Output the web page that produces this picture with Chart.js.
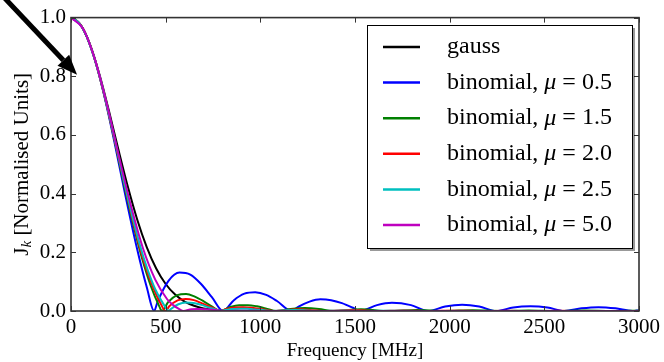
<!DOCTYPE html>
<html>
<head>
<meta charset="utf-8">
<script src="https://cdn.jsdelivr.net/npm/chart.js@4.4.0/dist/chart.umd.min.js"></script>
<style>
html, body { margin: 0; padding: 0; background: #fff; }
</style>
</head>
<body>
<div style="width:664px;height:362px"><canvas id="graph1" width="664" height="362"></canvas></div>
<script>
// values (frequency in MHz, J_k normalised)
var freqGauss = [0,50,100,150,200,250,300,350,400,450,500,550,600,650,700,800,900,1000,3000];
var jGauss = [1,0.976,0.909,0.807,0.683,0.551,0.424,0.311,0.218,0.145,0.092,0.056,0.032,0.018,0.009,0.002,0.0004,0,0];

var freqB05 = [0,57,115,172,229,286,344,401,439,458,515,573,630,687,744,803,859,916,973,1031,1088,1164,1202,1260,1317,1374,1431,1489,1525,1616,1695,1796,1886,1976,2066,2156,2246,2336,2426,2516,2606,2696,2786,2876,2966,3000];
var jB05 = [1,0.969,0.880,0.744,0.577,0.398,0.226,0.079,0,0.033,0.103,0.131,0.124,0.092,0.047,0,0.036,0.059,0.064,0.055,0.034,0,0.015,0.032,0.040,0.037,0.027,0.011,0,0.020,0.028,0.020,0,0.015,0.021,0.015,0,0.012,0.016,0.012,0,0.009,0.013,0.009,0,0.003];

var freqB15 = [0,47,93,140,187,234,280,327,374,421,467,480,514,561,608,654,701,748,787,841,888,935,982,1028,1086,1160,1234,1310,1384,1531,1679,1827,1974,2122,2269,2417,2563,2711,2858,3000];
var jB15 = [1,0.979,0.919,0.825,0.706,0.571,0.432,0.300,0.182,0.086,0.015,0,0.031,0.054,0.058,0.049,0.033,0.014,0,0.014,0.020,0.020,0.016,0.009,0,0.0071,0.0101,0.0071,0,0.0059,0,0.0038,0,0.0026,0,0.0019,0,0.0015,0,0.0012];

var freqB20 = [0,43,87,130,173,216,260,303,346,389,433,476,499,519,563,606,649,692,736,779,787,822,866,909,952,995,1039,1066,1203,1342,1480,1618,1757,1891,2025,2164,2302,2436,2571,2707,2843,2979,3000];
var jB20 = [1,0.982,0.931,0.849,0.744,0.624,0.498,0.374,0.259,0.160,0.081,0.022,0,0.016,0.036,0.041,0.037,0.026,0.014,0.002,0,0.007,0.012,0.013,0.011,0.007,0.003,0,0.0056,0,0.0030,0,0.0018,0,0.0012,0,0.0008,0,0.0006,0,0.0004,0,0.0001];

var freqB25 = [0,40,81,121,162,202,243,283,324,364,405,445,486,517,526,567,607,648,688,729,769,790,810,850,891,931,972,1012,1054,1182,1313,1441,1571,1700,1828,3000];
var jB25 = [1,0.984,0.939,0.867,0.774,0.666,0.550,0.433,0.323,0.224,0.140,0.074,0.026,0,0.006,0.023,0.029,0.027,0.021,0.012,0.004,0,0.003,0.007,0.008,0.008,0.005,0.003,0,0.0032,0,0.0016,0,0.0009,0,0];

var freqB50 = [0,64,127,191,254,318,381,445,508,540,572,594,635,667,699,730,762,824,908,1042,3000];
var jB50 = [1,0.962,0.856,0.701,0.525,0.355,0.212,0.107,0.040,0.020,0.006,0,0.006,0.007,0.006,0.005,0.003,0,0.0012,0,0];

var seriesNames = ["gauss", "binomial", "binomial", "binomial", "binomial", "binomial"];
var muValues = [null, "0.5", "1.5", "2.0", "2.5", "5.0"];
var seriesColors = ["#000000", "#0000ff", "#008000", "#ff0000", "#00bfbf", "#bf00bf"];
var xTicks = { min: 0, max: 3000, step: 500 };
var yTicks = { min: 0, max: 1, step: 0.2 };

function pts(f, j) {
    return f.map(function (v, i) { return { x: v, y: j[i] }; });
}
var allSeries = [pts(freqGauss, jGauss), pts(freqB05, jB05), pts(freqB15, jB15),
                 pts(freqB20, jB20), pts(freqB25, jB25), pts(freqB50, jB50)];

var serif = "'Liberation Serif', 'DejaVu Serif', serif";

// frame, inward ticks, y title, legend box and the arrow
var extras = {
    id: "extras",
    afterDraw: function (chart) {
        var ctx = chart.ctx, a = chart.chartArea;
        var xs = chart.scales.x, ys = chart.scales.y;
        ctx.save();
        ctx.strokeStyle = "#333";
        ctx.lineWidth = 1.6;
        ctx.strokeRect(a.left, a.top, a.right - a.left, a.bottom - a.top);
        ctx.lineWidth = 1;
        ctx.beginPath();
        xs.ticks.forEach(function (t) {
            var px = Math.round(xs.getPixelForValue(t.value)) + 0.5;
            ctx.moveTo(px, a.bottom); ctx.lineTo(px, a.bottom - 5);
            ctx.moveTo(px, a.top); ctx.lineTo(px, a.top + 5);
        });
        ys.ticks.forEach(function (t) {
            var py = Math.round(ys.getPixelForValue(t.value)) + 0.5;
            ctx.moveTo(a.left, py); ctx.lineTo(a.left + 5, py);
            ctx.moveTo(a.right, py); ctx.lineTo(a.right - 5, py);
        });
        ctx.stroke();

        // y title  J_k [Normalised Units]
        ctx.fillStyle = "#000";
        ctx.translate(22, (a.top + a.bottom) / 2);
        ctx.rotate(-Math.PI / 2);
        ctx.textBaseline = "middle";
        var fMain = "21px " + serif, fSub = "italic 15px " + serif;
        ctx.font = fMain; var wJ = ctx.measureText("J").width;
        var wRest = ctx.measureText(" [Normalised Units]").width;
        ctx.font = fSub; var wk = ctx.measureText("k").width;
        var x0 = -(wJ + wk + wRest) / 2;
        ctx.font = fMain; ctx.fillText("J", x0, 0);
        ctx.font = fSub; ctx.fillText("k", x0 + wJ, 5);
        ctx.font = fMain; ctx.fillText(" [Normalised Units]", x0 + wJ + wk, 0);
        ctx.restore();

        // legend
        ctx.save();
        var L = 367, T = 25, R = 632, B = 248;
        ctx.fillStyle = "rgba(0,0,0,0.4)";
        ctx.fillRect(L + 3, T + 3, R - L, B - T);
        ctx.fillStyle = "#fff";
        ctx.fillRect(L, T, R - L, B - T);
        ctx.strokeStyle = "#000";
        ctx.lineWidth = 1;
        ctx.strokeRect(L + 0.5, T + 0.5, R - L, B - T);
        ctx.textBaseline = "middle";
        var lf = "24px " + serif;
        seriesNames.forEach(function (name, i) {
            var y = 47 + i * 35.6;
            ctx.strokeStyle = seriesColors[i];
            ctx.lineWidth = 2.5;
            ctx.beginPath(); ctx.moveTo(383, y); ctx.lineTo(420, y); ctx.stroke();
            ctx.fillStyle = "#000";
            var x = 447;
            ctx.font = lf;
            if (muValues[i] === null) {
                ctx.fillText(name, x, y);
            } else {
                ctx.fillText(name + ", ", x, y); x += ctx.measureText(name + ", ").width;
                ctx.font = "italic " + lf;
                ctx.fillText("\u03bc", x, y); x += ctx.measureText("\u03bc").width + 6;
                ctx.font = lf;
                ctx.fillText("=", x, y); x += ctx.measureText("=").width + 6;
                ctx.fillText(muValues[i], x, y);
            }
        });
        ctx.restore();

        // arrow pointing at the top left of the curves
        ctx.save();
        var tx = xs.getPixelForValue(32), ty = ys.getPixelForValue(0.805);
        var ang = Math.atan2(1.06, 1);
        var hl = 20, hw = 8;
        var bx = tx - hl * Math.cos(ang), by = ty - hl * Math.sin(ang);
        ctx.strokeStyle = "#000"; ctx.fillStyle = "#000";
        ctx.lineWidth = 5;
        ctx.beginPath(); ctx.moveTo(tx - 110 * Math.cos(ang), ty - 110 * Math.sin(ang)); ctx.lineTo(bx, by); ctx.stroke();
        ctx.beginPath();
        ctx.moveTo(tx, ty);
        ctx.lineTo(bx + hw * Math.sin(ang), by - hw * Math.cos(ang));
        ctx.lineTo(bx - hw * Math.sin(ang), by + hw * Math.cos(ang));
        ctx.closePath(); ctx.fill();
        ctx.restore();
    }
};

var graph1 = document.getElementById("graph1").getContext("2d");
var myChart = new Chart(graph1, {
    type: "line",
    data: {
        datasets: allSeries.map(function (d, i) {
            return {
                label: muValues[i] === null ? seriesNames[i] : seriesNames[i] + ", \u03bc = " + muValues[i],
                data: d,
                borderColor: seriesColors[i],
                backgroundColor: seriesColors[i],
                borderWidth: 2,
                pointRadius: 0,
                fill: false,
                cubicInterpolationMode: "monotone",
                order: allSeries.length - i
            };
        })
    },
    options: {
        responsive: false,
        animation: false,
        layout: { padding: { top: 14, right: 22, left: 0, bottom: 0 } },
        plugins: { legend: { display: false }, tooltip: { enabled: false } },
        scales: {
            x: {
                type: "linear",
                min: xTicks.min, max: xTicks.max,
                ticks: { stepSize: xTicks.step, color: "#000", padding: 4, maxRotation: 0,
                         font: { family: serif, size: 21 },
                         callback: function (v) { return String(v); } },
                grid: { display: false, drawTicks: false },
                border: { display: false },
                title: { display: true, text: "Frequency [MHz]", color: "#000", padding: 0,
                         font: { family: serif, size: 19 } },
                afterFit: function (s) { s.height = 51; }
            },
            y: {
                min: yTicks.min, max: yTicks.max,
                ticks: { stepSize: yTicks.step, color: "#000", padding: 5,
                         font: { family: serif, size: 21 },
                         callback: function (v) { return v.toFixed(1); } },
                grid: { display: false, drawTicks: false },
                border: { display: false },
                afterFit: function (s) { s.width = 71; }
            }
        }
    },
    plugins: [extras]
});
</script>
</body>
</html>
